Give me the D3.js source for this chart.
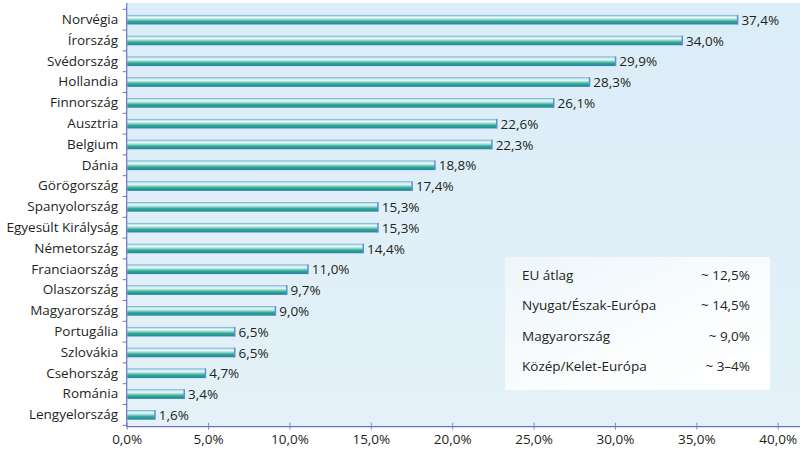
<!DOCTYPE html>
<html><head><meta charset="utf-8">
<script src="https://cdn.jsdelivr.net/npm/d3@7"></script>
<style>body{margin:0;background:#fff;}svg{display:block;font-family:"Open Sans",sans-serif;}</style>
</head><body>
<script>
const countries = ["Norvégia","Írország","Svédország","Hollandia","Finnország","Ausztria","Belgium","Dánia","Görögország","Spanyolország","Egyesült Királyság","Németország","Franciaország","Olaszország","Magyarország","Portugália","Szlovákia","Csehország","Románia","Lengyelország"];
const values = [37.4,34.0,29.9,28.3,26.1,22.6,22.3,18.8,17.4,15.3,15.3,14.4,11.0,9.7,9.0,6.5,6.5,4.7,3.4,1.6];
const xTicks = [0,5,10,15,20,25,30,35,40];
const legendNames = ["EU átlag","Nyugat/Észak-Európa","Magyarország","Közép/Kelet-Európa"];
const legendValues = ["~ 12,5%","~ 14,5%","~ 9,0%","~ 3–4%"];

const W = 806, H = 452, FS = 13.5;
const svg = d3.select("body").append("svg").attr("width", W).attr("height", H);
const defs = svg.append("defs");
const bg = defs.append("linearGradient").attr("id","bg").attr("x1",0).attr("y1",0).attr("x2",0).attr("y2",1);
bg.append("stop").attr("offset","0%").attr("stop-color","#dbedf8");
bg.append("stop").attr("offset","100%").attr("stop-color","#e4f1f8");
const bar = defs.append("linearGradient").attr("id","bar").attr("x1",0).attr("y1",0).attr("x2",0).attr("y2",1);
[["0%","#6e9fd3"],["12%","#b0e0ea"],["30%","#f0fafa"],["50%","#8ad4c6"],["68%","#30a897"],["86%","#23968c"],["100%","#3b7cc2"]]
  .forEach(([o,c]) => bar.append("stop").attr("offset",o).attr("stop-color",c));
const lg = defs.append("linearGradient").attr("id","lg").attr("x1",0).attr("y1",0).attr("x2",1).attr("y2",1);
lg.append("stop").attr("offset","0%").attr("stop-color","#edf6fb");
lg.append("stop").attr("offset","60%").attr("stop-color","#fbfdfe");
lg.append("stop").attr("offset","100%").attr("stop-color","#ffffff");

const x0 = 126.7, x1 = 777.7, plotRight = 800, plotTop = 3, axisY = 426.7;
const x = d3.scaleLinear().domain([0,40]).range([x0,x1]);
const y = d3.scaleBand().domain(countries).range([9.3,425.3]).paddingInner(0.54).paddingOuter(0.27);

svg.append("rect").attr("x",x0).attr("y",plotTop).attr("width",plotRight-x0).attr("height",axisY-plotTop).attr("fill","url(#bg)");

// legend box
svg.append("rect").attr("x",505).attr("y",257).attr("width",265).attr("height",133).attr("fill","url(#lg)");
const lgG = svg.append("g").attr("font-size",FS).attr("fill","#231f20");
legendNames.forEach((n,i) => {
  const by = 280 + i*30.3;
  lgG.append("text").attr("x",522).attr("y",by).text(n);
  lgG.append("text").attr("x",750).attr("y",by).attr("text-anchor","end").text(legendValues[i]);
});

// bars
svg.append("g").selectAll("rect").data(values).join("rect")
  .attr("x", x(0)+0.5)
  .attr("y", (d,i) => y(countries[i]))
  .attr("width", d => x(d)-x(0)+2)
  .attr("height", y.bandwidth())
  .attr("fill","url(#bar)");
svg.append("g").selectAll("rect").data(values).join("rect")
  .attr("x", d => x(d)+1.5)
  .attr("y", (d,i) => y(countries[i]))
  .attr("width", 1.5)
  .attr("height", y.bandwidth())
  .attr("fill","#5b93d6");

// value labels
svg.append("g").attr("font-size",FS).attr("fill","#231f20").selectAll("text").data(values).join("text")
  .attr("x", d => x(d)+6)
  .attr("y", (d,i) => y(countries[i]) + y.bandwidth()/2 + 5)
  .text(d => d.toFixed(1).replace(".",",") + "%");

// y axis
const yAxis = d3.axisLeft(y).tickSize(0).tickPadding(8.5);
const gy = svg.append("g").attr("transform",`translate(${x0},0)`).call(yAxis);
gy.select(".domain").remove();
gy.selectAll("text").attr("font-size",FS).attr("fill","#231f20").attr("font-family","'Open Sans',sans-serif");
const step = y.step();
const boundaries = d3.range(countries.length+1).map(i => 9.3 + i*(416/countries.length));
svg.append("g").selectAll("line").data(boundaries).join("line")
  .attr("x1",x0-4).attr("x2",x0).attr("y1",d=>d).attr("y2",d=>d)
  .attr("stroke","#6b70c9").attr("stroke-width",1);
svg.append("line").attr("x1",x0).attr("x2",x0).attr("y1",plotTop).attr("y2",axisY)
  .attr("stroke","#6b70c9").attr("stroke-width",1.2);

// x axis
const xAxis = d3.axisBottom(x).tickValues(xTicks).tickSize(3).tickPadding(5)
  .tickFormat(d => d.toFixed(1).replace(".",",") + "%");
const gx = svg.append("g").attr("transform",`translate(0,${axisY})`).call(xAxis);
gx.select(".domain").remove();
gx.selectAll(".tick line").attr("stroke","#8a8dc9").attr("y1",-4);
gx.selectAll("text").attr("font-size",FS).attr("fill","#231f20").attr("font-family","'Open Sans',sans-serif");
svg.append("line").attr("x1",x0).attr("x2",plotRight).attr("y1",axisY).attr("y2",axisY)
  .attr("stroke","#6b70c9").attr("stroke-width",1.3);
</script>
</body></html>
